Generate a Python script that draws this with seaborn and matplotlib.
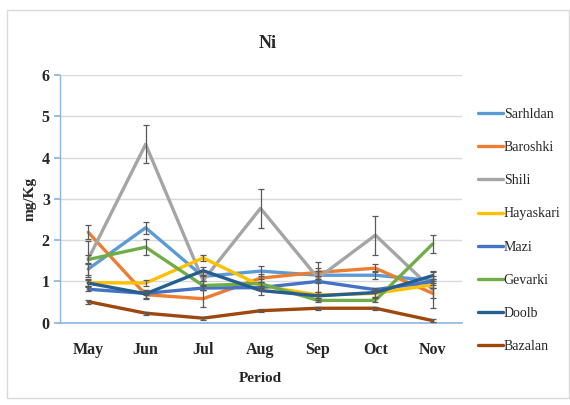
import numpy as np
import pandas as pd
import matplotlib
matplotlib.use("Agg")
import matplotlib.pyplot as plt
from matplotlib.patches import Rectangle
import seaborn as sns

months = ["May", "Jun", "Jul", "Aug", "Sep", "Oct", "Nov"]
sites = ["Sarhldan", "Baroshki", "Shili", "Hayaskari", "Mazi", "Gevarki", "Doolb", "Bazalan"]

sarhldan = [1.30, 2.30, 1.12, 1.25, 1.15, 1.15, 1.02]
baroshki = [2.19, 0.68, 0.58, 1.08, 1.22, 1.32, 0.71]
shili = [1.54, 4.32, 1.02, 2.77, 1.08, 2.12, 0.80]
hayaskari = [0.97, 0.96, 1.57, 0.90, 0.67, 0.71, 0.92]
mazi = [0.81, 0.71, 0.84, 0.85, 1.00, 0.80, 1.00]
gevarki = [1.53, 1.83, 0.90, 0.95, 0.54, 0.54, 1.91]
doolb = [0.96, 0.70, 1.26, 0.78, 0.65, 0.73, 1.14]
bazalan = [0.51, 0.23, 0.11, 0.29, 0.35, 0.35, 0.05]

sarhldan_sd = [0.15, 0.15, 0.10, 0.12, 0.10, 0.10, 0.10]
baroshki_sd = [0.17, 0.10, 0.20, 0.10, 0.10, 0.10, 0.12]
shili_sd = [0.43, 0.46, 0.10, 0.48, 0.40, 0.47, 0.45]
hayaskari_sd = [0.08, 0.08, 0.08, 0.08, 0.08, 0.08, 0.08]
mazi_sd = [0.05, 0.05, 0.05, 0.05, 0.05, 0.05, 0.05]
gevarki_sd = [0.10, 0.20, 0.10, 0.10, 0.05, 0.05, 0.22]
doolb_sd = [0.08, 0.10, 0.10, 0.10, 0.10, 0.10, 0.08]
bazalan_sd = [0.05, 0.04, 0.04, 0.03, 0.04, 0.04, 0.03]

values = [sarhldan, baroshki, shili, hayaskari, mazi, gevarki, doolb, bazalan]
errors = [sarhldan_sd, baroshki_sd, shili_sd, hayaskari_sd, mazi_sd, gevarki_sd, doolb_sd, bazalan_sd]
colors = ["#5B9BD5", "#ED7D31", "#A5A5A5", "#FFC000", "#4472C4", "#70AD47", "#255E91", "#9E480E"]

df = pd.DataFrame({
    "Period": months * len(sites),
    "Site": np.repeat(sites, len(months)),
    "Ni": np.concatenate(values),
})

sns.set_theme(style="white")
plt.rcParams["font.family"] = ["Liberation Serif", "DejaVu Serif"]

fig = plt.figure(figsize=(5.7, 4.05), dpi=100)
fig.patches.append(Rectangle((7 / 570, 7 / 405), 562 / 570, 388 / 405,
                             transform=fig.transFigure, fill=False,
                             edgecolor="#D9D9D9", linewidth=1.0))
ax = fig.add_axes([59.5 / 570, 82.3 / 405, 402 / 570, 247.7 / 405])

sns.lineplot(data=df, x="Period", y="Ni", hue="Site", hue_order=sites,
             palette=colors, linewidth=2.4, sort=False, ax=ax, zorder=3)

xpos = np.arange(len(months))
for v, e in zip(values, errors):
    ax.errorbar(xpos, v, yerr=e, fmt="none", ecolor="#595959",
                elinewidth=0.9, capsize=2.5, capthick=0.9, zorder=4)

ax.set_xlim(-0.5, len(months) - 0.5)
ax.set_ylim(0, 6)
ax.set_yticks(range(7))
ax.yaxis.grid(True, color="#D9D9D9", linewidth=1.0)
ax.set_axisbelow(True)
for side in ["top", "right"]:
    ax.spines[side].set_visible(False)
ax.spines["left"].set_color("#8FB4DE")
ax.spines["bottom"].set_color("#8FB4DE")
ax.spines["left"].set_linewidth(1.0)
ax.spines["bottom"].set_linewidth(1.2)
ax.tick_params(axis="y", which="both", left=True, length=4, color="#8FB4DE",
               labelsize=11.5, pad=3)
ax.tick_params(axis="x", bottom=False, labelsize=11.5, pad=8)
for lab in ax.get_xticklabels() + ax.get_yticklabels():
    lab.set_fontweight("bold")

ax.set_xlabel("Period", fontsize=11, fontweight="bold", labelpad=10)
ax.set_ylabel("mg/Kg", fontsize=11, fontweight="bold", labelpad=4)
fig.text(268 / 570, 1 - 43 / 405, "Ni", ha="center", va="center",
         fontsize=13, fontweight="bold")

handles, labels = ax.get_legend_handles_labels()
ax.legend(handles, labels, loc="upper left", bbox_to_anchor=(478 / 570, 1 - 108 / 405),
          bbox_transform=fig.transFigure, frameon=False, fontsize=10,
          handlelength=1.8, handletextpad=0.05, labelspacing=1.45, borderaxespad=0,
          borderpad=0)

fig.savefig("out.png", dpi=100)
